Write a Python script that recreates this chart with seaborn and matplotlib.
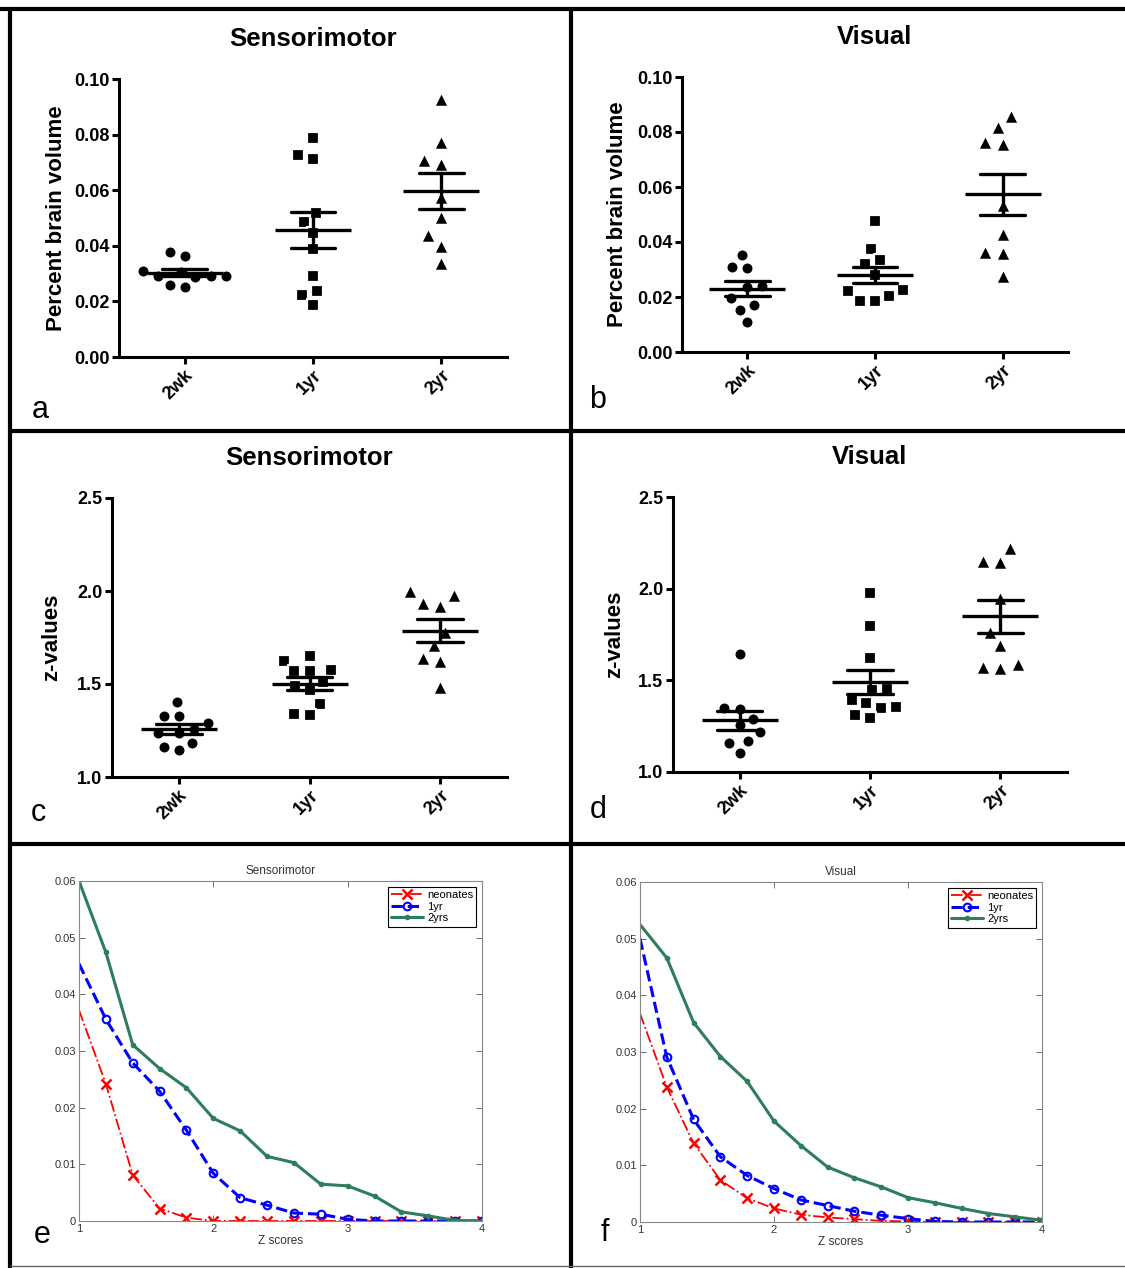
import numpy as np
import pandas as pd
import matplotlib
matplotlib.use("Agg")
import matplotlib.pyplot as plt
from matplotlib.lines import Line2D
from matplotlib.ticker import FormatStrFormatter, FuncFormatter
import seaborn as sns

sns.set_theme(style="white")
plt.rcParams["font.family"] = ["Liberation Sans", "DejaVu Sans"]
plt.rcParams["text.color"] = "black"
plt.rcParams["axes.labelcolor"] = "black"
plt.rcParams["xtick.color"] = "black"
plt.rcParams["ytick.color"] = "black"

AGES = ["2wk", "1yr", "2yr"]
AGE_MARKERS = ["o", "s", "^"]
AGE_MARKER_SIZES = [8.8, 8.8, 10.6]

# Percent of brain volume, sensorimotor network
sm_pct_2wk = [0.0377, 0.0362, 0.0292, 0.0287, 0.0305, 0.0310, 0.0292, 0.0290, 0.0251, 0.0260]
sm_pct_1yr = [0.0789, 0.0727, 0.0713, 0.0517, 0.0487, 0.0446, 0.0388, 0.0290, 0.0238, 0.0224, 0.0188]
sm_pct_2yr = [0.0928, 0.0772, 0.0709, 0.0695, 0.0577, 0.0503, 0.0440, 0.0401, 0.0338]

# Percent of brain volume, visual network
vis_pct_2wk = [0.0354, 0.0309, 0.0305, 0.0236, 0.0239, 0.0196, 0.0172, 0.0154, 0.0108]
vis_pct_1yr = [0.0475, 0.0375, 0.0321, 0.0333, 0.0281, 0.0224, 0.0205, 0.0184, 0.0187, 0.0221]
vis_pct_2yr = [0.0859, 0.0817, 0.0758, 0.0762, 0.0533, 0.0430, 0.0364, 0.0360, 0.0278]

# Mean z-values, sensorimotor network
sm_z_2wk = [1.404, 1.327, 1.327, 1.290, 1.234, 1.234, 1.183, 1.144, 1.162, 1.260]
sm_z_1yr = [1.650, 1.625, 1.575, 1.570, 1.570, 1.510, 1.490, 1.470, 1.390, 1.335, 1.340]
sm_z_2yr = [2.000, 1.938, 1.920, 1.979, 1.781, 1.710, 1.638, 1.625, 1.485]

# Mean z-values, visual network
vis_z_2wk = [1.642, 1.345, 1.351, 1.255, 1.291, 1.218, 1.169, 1.160, 1.104]
vis_z_1yr = [1.978, 1.795, 1.624, 1.449, 1.455, 1.395, 1.376, 1.351, 1.355, 1.296, 1.309]
vis_z_2yr = [2.224, 2.151, 2.145, 1.949, 1.764, 1.691, 1.591, 1.569, 1.573]

# Fraction of brain volume above each Z-score threshold
Z_SCORES = [1.0, 1.2, 1.4, 1.6, 1.8, 2.0, 2.2, 2.4, 2.6, 2.8, 3.0, 3.2, 3.4, 3.6, 3.8, 4.0]
sm_neonates = [0.0372, 0.0242, 0.0081, 0.0022, 0.0006, 0.0, 0.0, 0.0, 0.0, 0.0, 0.0, 0.0, 0.0, 0.0, 0.0, 0.0]
sm_1yr = [0.0454, 0.0356, 0.0279, 0.0229, 0.0160, 0.0084, 0.0041, 0.0028, 0.0014, 0.0012, 0.0003, 0.0, 0.0, 0.0, 0.0, 0.0]
sm_2yrs = [0.0600, 0.0474, 0.0311, 0.0269, 0.0235, 0.0181, 0.0159, 0.0114, 0.0103, 0.0065, 0.0062, 0.0044, 0.0016, 0.0009, 0.0001, 0.0]
vis_neonates = [0.0368, 0.0238, 0.0139, 0.0074, 0.0042, 0.0024, 0.0013, 0.0008, 0.0005, 0.0002, 0.0001, 0.0, 0.0, 0.0, 0.0, 0.0]
vis_1yr = [0.0500, 0.0291, 0.0181, 0.0115, 0.0082, 0.0059, 0.0039, 0.0029, 0.0019, 0.0012, 0.0006, 0.0001, 0.0, 0.0, 0.0, 0.0]
vis_2yrs = [0.0525, 0.0466, 0.0352, 0.0292, 0.0248, 0.0178, 0.0135, 0.0097, 0.0078, 0.0062, 0.0043, 0.0034, 0.0024, 0.0015, 0.0009, 0.0003]

CURVE_NAMES = ["neonates", "1yr", "2yrs"]

W, H = 1125, 1268
fig = plt.figure(figsize=(W / 100, H / 100), dpi=100)
fig.patch.set_facecolor("white")


def px_axes(left, top, right, bottom):
    return fig.add_axes([left / W, 1 - bottom / H, (right - left) / W, (bottom - top) / H])


def frame_line(x0, y0, x1, y1, lw=3.0, color="black"):
    fig.add_artist(Line2D([x0 / W, x1 / W], [1 - y0 / H, 1 - y1 / H],
                          transform=fig.transFigure, color=color,
                          linewidth=lw, solid_capstyle="butt"))


def scatter_panel(ax, groups, title, ylabel, ylim, yticks, fmt, label_x):
    df = pd.DataFrame({
        "age": np.repeat(AGES, [len(g) for g in groups]),
        "value": np.concatenate(groups),
    })
    # white marker rims keep a small gap between neighbouring points
    for age, marker, msize in zip(AGES, AGE_MARKERS, AGE_MARKER_SIZES):
        sns.swarmplot(data=df[df["age"] == age], x="age", y="value", order=AGES,
                      marker=marker, color="black", size=msize, linewidth=1.6,
                      edgecolor="white", zorder=2, ax=ax)
    # mean with SEM bars drawn on top of the points
    sns.pointplot(data=df, x="age", y="value", order=AGES, errorbar="se",
                  capsize=0.35, linestyle="none", marker="_", markersize=55,
                  markeredgewidth=2.4, color="black", zorder=6,
                  err_kws={"linewidth": 2.4, "zorder": 5}, ax=ax)
    ax.set_xlim(-0.51, 2.51)
    ax.set_ylim(*ylim)
    ax.set_yticks(yticks)
    ax.yaxis.set_major_formatter(FormatStrFormatter(fmt))
    ax.set_xticks(range(len(AGES)))
    ax.set_xticklabels(AGES, rotation=45, ha="right", rotation_mode="anchor",
                       fontsize=13, fontweight="bold")
    for lbl in ax.get_yticklabels():
        lbl.set_fontsize(13)
        lbl.set_fontweight("bold")
    ax.set_xlabel("")
    ax.set_ylabel(ylabel, fontsize=16, fontweight="bold", color="black")
    ax.yaxis.set_label_coords(label_x, 0.5)
    sns.despine(ax=ax)
    for side in ("left", "bottom"):
        ax.spines[side].set_linewidth(2.2)
        ax.spines[side].set_color("black")
    ax.tick_params(axis="both", direction="out", length=5, width=2.2,
                   colors="black", left=True, bottom=True, pad=2)
    ax.set_title(title, fontsize=18.5, fontweight="bold", pad=24, color="black")


def curve_panel(ax, title, series):
    styles = [
        dict(color="#ff0000", linestyle="-.", linewidth=1.3, marker="x",
             markersize=7, markeredgewidth=1.8, markerfacecolor="#ff0000"),
        dict(color="#0000ff", linestyle="--", linewidth=2.2, marker="o",
             markersize=5.5, markeredgewidth=1.5, markerfacecolor="none"),
        dict(color="#2e7d5b", linestyle="-", linewidth=2.2, marker=".",
             markersize=6, markeredgewidth=1.0, markerfacecolor="#2e7d5b"),
    ]
    for vals, st in zip(series, styles):
        sns.lineplot(x=Z_SCORES, y=vals, ax=ax, legend=False,
                     markeredgecolor=st["color"], markevery=slice(1, None), **st)
    ax.set_xlim(1, 4)
    ax.set_ylim(0, 0.06)
    ax.set_xticks([1, 2, 3, 4])
    ax.set_yticks([0, 0.01, 0.02, 0.03, 0.04, 0.05, 0.06])
    ax.yaxis.set_major_formatter(FuncFormatter(lambda v, _: f"{v:g}"))
    ax.tick_params(axis="both", direction="in", top=True, right=True,
                   bottom=True, left=True, length=4, width=0.6,
                   labelsize=8, colors="#555555", labelcolor="#333333", pad=2)
    for side in ax.spines.values():
        side.set_visible(True)
        side.set_color("#888888")
        side.set_linewidth(0.8)
    ax.set_title(title, fontsize=8.5, color="#333333", pad=5)
    ax.set_xlabel("Z scores", fontsize=8.5, color="#333333", labelpad=1)
    ax.set_ylabel("")
    handles = [Line2D([], [], markeredgecolor=st["color"], **st) for st in styles]
    leg = ax.legend(handles, CURVE_NAMES, loc="upper right", fontsize=8,
                    frameon=True, fancybox=False, edgecolor="black",
                    framealpha=1, borderaxespad=0.5, handlelength=2.8,
                    handletextpad=0.4, borderpad=0.3, labelspacing=0.15)
    leg.get_frame().set_linewidth(0.8)


ax_a = px_axes(119, 79, 507, 357)
scatter_panel(ax_a, [sm_pct_2wk, sm_pct_1yr, sm_pct_2yr], "Sensorimotor",
              "Percent brain volume", (0, 0.10), [0, 0.02, 0.04, 0.06, 0.08, 0.10],
              "%.2f", -0.135)

ax_b = px_axes(682, 77, 1068, 352)
scatter_panel(ax_b, [vis_pct_2wk, vis_pct_1yr, vis_pct_2yr], "Visual",
              "Percent brain volume", (0, 0.10), [0, 0.02, 0.04, 0.06, 0.08, 0.10],
              "%.2f", -0.14)

ax_c = px_axes(112, 498, 507, 777)
scatter_panel(ax_c, [sm_z_2wk, sm_z_1yr, sm_z_2yr], "Sensorimotor",
              "z-values", (1.0, 2.5), [1.0, 1.5, 2.0, 2.5], "%.1f", -0.127)

ax_d = px_axes(673, 497, 1067, 772)
scatter_panel(ax_d, [vis_z_2wk, vis_z_1yr, vis_z_2yr], "Visual",
              "z-values", (1.0, 2.5), [1.0, 1.5, 2.0, 2.5], "%.1f", -0.122)

ax_e = px_axes(79, 881, 482, 1221)
curve_panel(ax_e, "Sensorimotor", [sm_neonates, sm_1yr, sm_2yrs])

ax_f = px_axes(640, 882, 1042, 1222)
curve_panel(ax_f, "Visual", [vis_neonates, vis_1yr, vis_2yrs])

# Panel letters
for letter, (x, y) in {"a": (40, 410), "b": (598, 400), "c": (38, 813),
                       "d": (598, 810), "e": (42, 1235), "f": (605, 1233)}.items():
    fig.text(x / W, 1 - y / H, letter, fontsize=22, ha="center", va="center",
             color="black")

# Panel frame
frame_line(0, 9, W, 9)
frame_line(10, 7, 10, H)
frame_line(10, 431, W, 431)
frame_line(10, 844, W, 844)
frame_line(571, 7, 571, H)
frame_line(10, 1266, W, 1266, lw=1.0, color="#666666")

fig.savefig("out.png", dpi=100, facecolor="white")
